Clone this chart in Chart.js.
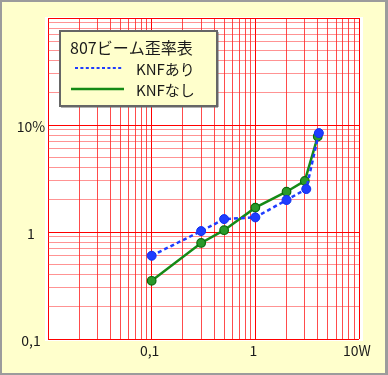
<!DOCTYPE html>
<html>
<head>
<meta charset="utf-8">
<script src="https://cdn.jsdelivr.net/npm/chart.js@4.4.1/dist/chart.umd.min.js"></script>
<style>
html,body{margin:0;padding:0;background:#fff;}
#wrap{width:388px;height:375px;}
</style>
</head>
<body>
<div id="wrap"><canvas id="c" width="388" height="375"></canvas></div>
<script>
// ---- data ----
const chartTitle = '807ビーム歪率表';
const seriesNames = ['KNFあり', 'KNFなし'];
const powerKNF = [0.1, 0.3, 0.5, 1, 2, 3.1, 4.1];
const distKNF = [0.60, 1.02, 1.32, 1.37, 1.99, 2.52, 8.4];
const powerNoKNF = [0.1, 0.3, 0.5, 1, 2, 3, 4];
const distNoKNF = [0.35, 0.79, 1.04, 1.69, 2.38, 3.0, 7.8];
const xTickValues = [0.1, 1, 10];
const xTickLabels = ['0,1', '1', '10W'];
const yTickValues = [0.1, 1, 10];
const yTickLabels = ['0,1', '1', '10%'];

const FONT = "'Noto Sans CJK JP', 'Noto Sans', sans-serif";
const BLUE = '#1f3cff';
const GREEN = '#158a15';

function toPts(xs, ys) { return xs.map((x, i) => ({x: x, y: ys[i]})); }

function logTicks(scale) {
  const out = [];
  const lo = Math.round(Math.log10(scale.min));
  const hi = Math.round(Math.log10(scale.max));
  for (let e = lo; e <= hi; e++) {
    for (let m = 1; m <= 9; m++) {
      const v = m * Math.pow(10, e);
      if (v >= scale.min * 0.999 && v <= scale.max * 1.001) out.push({value: v});
    }
  }
  scale.ticks = out;
}
function isMajor(v) {
  const l = Math.log10(v);
  return Math.abs(l - Math.round(l)) < 1e-6;
}

const frame = {
  id: 'frame',
  beforeDraw(chart) {
    const c = chart.ctx;
    c.save();
    c.fillStyle = '#9c9c9c';
    c.fillRect(0, 0, 388, 375);
    c.fillStyle = '#ffffcc';
    c.fillRect(2, 2, 383, 371);
    const a = chart.chartArea;
    c.fillStyle = '#ffffff';
    c.fillRect(a.left - 3, a.top - 1, a.right - a.left + 7, a.bottom - a.top + 3);
    c.restore();
  },
  afterDraw(chart) {
    const c = chart.ctx;
    const xs = chart.scales.x, ys = chart.scales.y;
    c.save();
    c.fillStyle = '#1a1a1a';
    c.font = '14px ' + FONT;
    c.textBaseline = 'middle';
    c.textAlign = 'center';
    xTickValues.forEach((v, i) => {
      c.fillText(xTickLabels[i], xs.getPixelForValue(v) - 2, 351);
    });
    yTickValues.forEach((v, i) => {
      c.fillText(yTickLabels[i], 31, ys.getPixelForValue(v) + 2);
    });
    // legend box
    const bx = 60, by = 31, bw = 157, bh = 75;
    c.fillStyle = '#ffffcc';
    c.fillRect(bx, by, bw, bh);
    c.strokeStyle = '#666666';
    c.lineWidth = 2;
    c.strokeRect(bx, by, bw, bh);
    c.fillStyle = '#666666';
    c.fillRect(bx + 1, by + bh, bw, 1.5);
    c.fillRect(bx + bw, by + 1, 1.5, bh);
    c.fillStyle = '#1a1a1a';
    c.font = '16px ' + FONT;
    c.textAlign = 'left';
    c.fillText(chartTitle, 70, 48);
    c.font = '15px ' + FONT;
    c.fillText(seriesNames[0], 136, 69);
    c.fillText(seriesNames[1], 136, 90);
    c.lineWidth = 2;
    c.strokeStyle = BLUE;
    c.setLineDash([3, 2.4]);
    c.beginPath(); c.moveTo(75, 68); c.lineTo(122, 68); c.stroke();
    c.setLineDash([]);
    c.lineWidth = 2.5;
    c.strokeStyle = GREEN;
    c.beginPath(); c.moveTo(71, 89); c.lineTo(124, 89); c.stroke();
    c.restore();
  }
};

new Chart(document.getElementById('c'), {
  type: 'scatter',
  data: {
    datasets: [
      {
        label: seriesNames[0],
        data: toPts(powerKNF, distKNF),
        showLine: true,
        borderColor: BLUE,
        borderWidth: 2.5,
        borderDash: [4, 3],
        pointBackgroundColor: BLUE,
        pointBorderColor: '#1030ee',
        pointBorderWidth: 1,
        pointRadius: 4.5,
        tension: 0
      },
      {
        label: seriesNames[1],
        data: toPts(powerNoKNF, distNoKNF),
        showLine: true,
        borderColor: GREEN,
        borderWidth: 2.5,
        pointBackgroundColor: '#2a9a2a',
        pointBorderColor: '#0a6a0a',
        pointBorderWidth: 1.2,
        pointRadius: 4.3,
        tension: 0
      }
    ]
  },
  options: {
    responsive: false,
    animation: false,
    devicePixelRatio: 1,
    layout: {padding: {top: 18, right: 29, bottom: 0, left: 0}},
    plugins: {legend: {display: false}, tooltip: {enabled: false}},
    scales: {
      x: {
        type: 'logarithmic',
        min: 0.01, max: 10,
        afterBuildTicks: logTicks,
        afterFit(s) { s.height = 36; },
        ticks: {display: false},
        border: {display: false},
        grid: {
          drawTicks: false,
          color: (ctx) => ctx.tick && isMajor(ctx.tick.value) ? '#ff0000' : 'rgba(255,0,0,0.7)',
          lineWidth: 1
        }
      },
      y: {
        type: 'logarithmic',
        min: 0.1, max: 100,
        afterBuildTicks: logTicks,
        afterFit(s) { s.width = 48; },
        ticks: {display: false},
        border: {display: false},
        grid: {
          drawTicks: false,
          color: (ctx) => ctx.tick && isMajor(ctx.tick.value) ? '#ff0000' : 'rgba(255,40,40,0.5)',
          lineWidth: 1
        }
      }
    }
  },
  plugins: [frame]
});
</script>
</body>
</html>
